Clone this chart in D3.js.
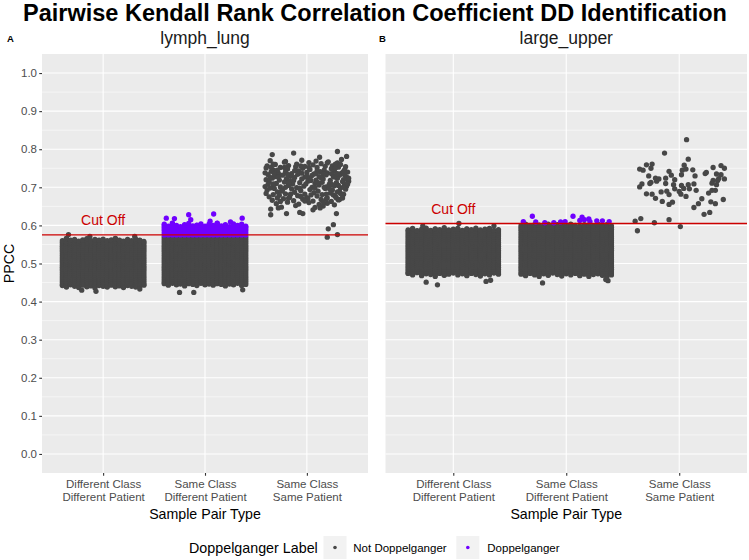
<!DOCTYPE html>
<html>
<head>
<meta charset="utf-8">
<script src="https://cdn.jsdelivr.net/npm/d3@7"></script>
<style>
  body { margin: 0; background: #fff; }
  svg { display: block; }
  text { font-family: "Liberation Sans", Arial, sans-serif; }
</style>
</head>
<body>
<div id="chart"></div>
<script>
// ---- data ----
const categories = ["Different Class\nDifferent Patient", "Same Class\nDifferent Patient", "Same Class\nSame Patient"];
const panelNames = ["lymph_lung", "large_upper"];
const panelTags = ["A", "B"];
const yTicks = [0, 0.1, 0.2, 0.3, 0.4, 0.5, 0.6, 0.7, 0.8, 0.9, 1.0];
const cutoffs = [0.575, 0.605];
const legendLabels = ["Not Doppelganger", "Doppelganger"];

// the dense clouds: for each jitter column, the top and bottom of the cloud
const columnJitter = [-0.40, -0.36, -0.32, -0.28, -0.24, -0.20, -0.16, -0.12, -0.08, -0.04, 0, 0.04, 0.08, 0.12, 0.16, 0.20, 0.24, 0.28, 0.32, 0.36, 0.40];
const fillLevels = [0.440, 0.445, 0.450, 0.455, 0.460, 0.465, 0.470, 0.475, 0.480, 0.485, 0.490, 0.495, 0.500,
                    0.505, 0.510, 0.515, 0.520, 0.525, 0.530, 0.535, 0.540, 0.545, 0.550, 0.555, 0.560,
                    0.565, 0.570, 0.575, 0.580, 0.585, 0.590, 0.595, 0.600, 0.605, 0.610, 0.615, 0.620];

const lymphDDTop    = [0.560, 0.566, 0.561, 0.563, 0.559, 0.562, 0.565, 0.560, 0.563, 0.561, 0.564, 0.560, 0.562, 0.566, 0.561, 0.559, 0.563, 0.560, 0.564, 0.561, 0.558];
const lymphDDBottom = [0.442, 0.438, 0.444, 0.440, 0.437, 0.443, 0.439, 0.441, 0.436, 0.442, 0.440, 0.438, 0.443, 0.439, 0.441, 0.437, 0.442, 0.440, 0.438, 0.441, 0.443];
const lymphSDTop    = [0.603, 0.598, 0.606, 0.600, 0.597, 0.602, 0.605, 0.599, 0.601, 0.604, 0.598, 0.603, 0.600, 0.606, 0.599, 0.602, 0.597, 0.604, 0.600, 0.603, 0.598];
const lymphSDBottom = [0.447, 0.443, 0.448, 0.444, 0.446, 0.441, 0.447, 0.445, 0.442, 0.448, 0.444, 0.446, 0.443, 0.447, 0.445, 0.441, 0.446, 0.444, 0.448, 0.442, 0.445];
const largeDDTop    = [0.588, 0.592, 0.586, 0.590, 0.593, 0.587, 0.591, 0.589, 0.594, 0.588, 0.590, 0.592, 0.587, 0.591, 0.589, 0.593, 0.588, 0.590, 0.592, 0.587, 0.589];
const largeDDBottom = [0.474, 0.470, 0.476, 0.468, 0.473, 0.471, 0.466, 0.474, 0.469, 0.472, 0.475, 0.470, 0.473, 0.468, 0.474, 0.471, 0.467, 0.473, 0.470, 0.475, 0.472];
const largeSDTop    = [0.600, 0.603, 0.599, 0.602, 0.601, 0.598, 0.603, 0.600, 0.602, 0.599, 0.601, 0.603, 0.600, 0.598, 0.602, 0.601, 0.599, 0.603, 0.600, 0.602, 0.599];
const largeSDBottom = [0.472, 0.468, 0.474, 0.470, 0.466, 0.473, 0.469, 0.475, 0.471, 0.467, 0.473, 0.470, 0.474, 0.468, 0.472, 0.466, 0.471, 0.473, 0.469, 0.465, 0.470];

// stray points around the clouds: [jitter, value]
const lymphDDStray = [[-0.34, 0.576], [-0.13, 0.571], [0.31, 0.571], [-0.07, 0.427], [-0.21, 0.430], [0.36, 0.433]];
const lymphSDStray = [[-0.38, 0.619], [-0.30, 0.618], [-0.16, 0.628], [-0.14, 0.615], [0.085, 0.630], [0.05, 0.611],
                      [0.365, 0.619], [0.25, 0.609], [-0.25, 0.424], [-0.11, 0.424], [0.37, 0.431]];
const largeDDStray = [[-0.24, 0.451], [-0.14, 0.444], [0.29, 0.453], [0.33, 0.456], [-0.27, 0.599], [0.05, 0.605], [0.36, 0.599]];
const largeSDStray = [[-0.38, 0.610], [-0.30, 0.624], [-0.27, 0.609], [-0.19, 0.607], [-0.05, 0.609], [-0.01, 0.610],
                      [0.06, 0.624], [0.12, 0.613], [0.14, 0.622], [0.16, 0.615], [0.20, 0.617], [0.21, 0.610],
                      [0.27, 0.612], [0.32, 0.612], [0.38, 0.610], [-0.11, 0.607],
                      [-0.21, 0.449], [0.37, 0.455], [0.35, 0.458]];

// lymph_lung, same class same patient: [jitter, value]
const lymphSS = [
  [-0.36, 0.770], [-0.22, 0.766], [-0.05, 0.771], [0.02, 0.765], [0.09, 0.769], [0.21, 0.767], [0.30, 0.764],
  [-0.39, 0.756], [-0.31, 0.760], [-0.18, 0.757], [-0.10, 0.761], [-0.02, 0.755], [0.06, 0.759], [0.14, 0.762], [0.25, 0.756], [0.33, 0.760], [0.38, 0.754],
  [-0.40, 0.751], [-0.33, 0.746], [-0.26, 0.752], [-0.19, 0.748], [-0.12, 0.744], [-0.04, 0.750], [0.03, 0.747], [0.10, 0.752], [0.17, 0.745], [0.24, 0.749], [0.31, 0.753], [0.37, 0.746],
  [-0.41, 0.738], [-0.35, 0.742], [-0.28, 0.737], [-0.21, 0.741], [-0.15, 0.736], [-0.08, 0.743], [0.00, 0.739], [0.07, 0.735], [0.13, 0.741], [0.20, 0.738], [0.27, 0.742], [0.34, 0.737], [0.40, 0.740],
  [-0.38, 0.733], [-0.31, 0.728], [-0.24, 0.732], [-0.16, 0.729], [-0.09, 0.734], [-0.02, 0.727], [0.05, 0.731], [0.12, 0.728], [0.19, 0.733], [0.26, 0.729], [0.32, 0.732], [0.39, 0.727],
  [-0.40, 0.720], [-0.34, 0.724], [-0.27, 0.719], [-0.20, 0.723], [-0.13, 0.718], [-0.05, 0.722], [0.02, 0.725], [0.09, 0.719], [0.16, 0.722], [0.23, 0.718], [0.30, 0.724], [0.36, 0.720], [0.41, 0.716],
  [-0.37, 0.715], [-0.30, 0.710], [-0.22, 0.714], [-0.14, 0.709], [-0.07, 0.712], [0.01, 0.716], [0.08, 0.710], [0.15, 0.713], [0.22, 0.708], [0.29, 0.712], [0.35, 0.715], [0.40, 0.709],
  [-0.41, 0.702], [-0.33, 0.706], [-0.26, 0.701], [-0.18, 0.705], [-0.10, 0.699], [-0.03, 0.703], [0.05, 0.700], [0.12, 0.706], [0.19, 0.701], [0.27, 0.704], [0.33, 0.699], [0.39, 0.703],
  [-0.39, 0.693], [-0.32, 0.697], [-0.24, 0.692], [-0.15, 0.696], [-0.06, 0.691], [0.03, 0.694], [0.11, 0.690], [0.18, 0.697], [0.25, 0.693], [0.32, 0.689], [0.38, 0.695],
  [-0.40, 0.684], [-0.29, 0.688], [-0.21, 0.683], [-0.12, 0.687], [-0.02, 0.682], [0.07, 0.686], [0.15, 0.681], [0.23, 0.685], [0.30, 0.688], [0.36, 0.682],
  [-0.37, 0.675], [-0.27, 0.679], [-0.17, 0.674], [-0.09, 0.678], [0.00, 0.673], [0.10, 0.677], [0.20, 0.672], [0.28, 0.676], [0.35, 0.679],
  [-0.34, 0.666], [-0.23, 0.670], [-0.13, 0.665], [-0.04, 0.669], [0.06, 0.664], [0.14, 0.668], [0.24, 0.663], [0.31, 0.667],
  [-0.30, 0.657], [-0.19, 0.661], [-0.08, 0.656], [0.02, 0.660], [0.12, 0.655], [0.20, 0.658], [0.27, 0.654],
  [-0.25, 0.648], [-0.11, 0.652], [0.08, 0.647], [0.16, 0.651],
  [-0.36, 0.726], [-0.29, 0.745], [-0.11, 0.754], [0.04, 0.718], [0.17, 0.700], [0.31, 0.705], [-0.25, 0.690],
  [0.24, 0.736], [-0.06, 0.676], [0.36, 0.742], [-0.38, 0.708], [0.10, 0.743], [0.26, 0.680], [-0.17, 0.717],
  [-0.35, 0.753], [-0.22, 0.752], [-0.06, 0.756], [0.02, 0.752], [0.18, 0.755], [0.28, 0.751],
  [-0.32, 0.735], [-0.19, 0.734], [-0.05, 0.737], [0.09, 0.736], [0.16, 0.734], [0.30, 0.736], [0.37, 0.733],
  [-0.28, 0.727], [-0.12, 0.726], [0.00, 0.729], [0.14, 0.725], [0.27, 0.727], [0.39, 0.722],
  [-0.33, 0.709], [-0.18, 0.711], [-0.01, 0.709], [0.11, 0.712], [0.25, 0.707], [0.37, 0.708],
  [-0.36, 0.698], [-0.21, 0.700], [-0.07, 0.697], [0.08, 0.699], [0.22, 0.697], [0.36, 0.700],
  [-0.33, 0.681], [-0.16, 0.682], [0.04, 0.680], [0.19, 0.682], [0.33, 0.684],
  [-0.29, 0.672], [-0.18, 0.671], [0.01, 0.670], [0.19, 0.669], [0.29, 0.672],
  [-0.26, 0.663], [-0.02, 0.664], [0.16, 0.662],
  [-0.34, 0.786], [-0.13, 0.790], [0.30, 0.794], [0.39, 0.781], [0.34, 0.773], [0.125, 0.779],
  [0.28, 0.761], [0.20, 0.764], [-0.21, 0.768], [-0.33, 0.761], [0.41, 0.724],
  [-0.355, 0.643], [-0.355, 0.628], [-0.28, 0.646], [-0.20, 0.631], [-0.07, 0.634], [-0.04, 0.631],
  [0.06, 0.641], [0.13, 0.646], [0.29, 0.631], [0.32, 0.668], [0.35, 0.672],
  [0.26, 0.602], [0.21, 0.591], [0.30, 0.576], [0.20, 0.569]
];

// large_upper, same class same patient: [jitter, value]
const largeSS = [
  [0.065, 0.825], [-0.13, 0.790], [0.08, 0.774], [-0.35, 0.748], [-0.32, 0.745], [-0.29, 0.759], [-0.24, 0.761],
  [-0.25, 0.750], [0.044, 0.758], [0.027, 0.745], [0.06, 0.748], [0.12, 0.746], [0.30, 0.752], [0.37, 0.757],
  [0.40, 0.750], [0.23, 0.736], [0.24, 0.739], [0.33, 0.735], [0.37, 0.733], [-0.27, 0.730], [-0.09, 0.742],
  [-0.07, 0.732], [0.02, 0.733], [0.14, 0.730], [-0.21, 0.724], [-0.18, 0.722], [-0.12, 0.724], [-0.04, 0.720],
  [0.30, 0.718], [0.35, 0.723], [0.40, 0.722], [-0.25, 0.713], [-0.20, 0.716], [-0.26, 0.710], [-0.33, 0.709],
  [-0.35, 0.701], [-0.12, 0.710], [-0.05, 0.707], [0.02, 0.705], [0.08, 0.707], [0.13, 0.709], [0.29, 0.711],
  [0.34, 0.718], [0.33, 0.707], [-0.04, 0.696], [0.00, 0.689], [0.04, 0.697], [0.09, 0.696], [0.15, 0.692],
  [-0.11, 0.690], [-0.16, 0.688], [-0.29, 0.683], [-0.24, 0.682], [-0.09, 0.681], [0.015, 0.682], [0.06, 0.676],
  [0.26, 0.685], [0.29, 0.692], [0.32, 0.692], [-0.21, 0.671], [-0.15, 0.663], [-0.09, 0.655], [-0.06, 0.661],
  [0.20, 0.670], [0.28, 0.662], [0.32, 0.657], [0.39, 0.668], [0.17, 0.657], [0.13, 0.647], [0.22, 0.629],
  [0.27, 0.634], [-0.34, 0.618], [-0.39, 0.611], [-0.22, 0.607], [-0.09, 0.615], [-0.37, 0.586], [0.01, 0.597]
];

// ---- layout ----
const W = 749, H = 560;
const panelX = [[42, 368], [385.5, 747]];
const panelTop = 54, panelBottom = 473;
const r = 2.65;
const dark = "#474747", purple = "#7000FF", cutColor = "#CC0000";

const svg = d3.select("#chart").append("svg")
  .attr("width", W)
  .attr("height", H);

svg.append("text")
  .attr("x", 375).attr("y", 20.5)
  .attr("text-anchor", "middle")
  .attr("font-size", 23.5).attr("font-weight", "bold")
  .attr("fill", "#000")
  .text("Pairwise Kendall Rank Correlation Coefficient DD Identification");

const y = d3.scaleLinear().domain([-0.05, 1.05]).range([panelBottom, panelTop]);

function cloud(top, bottom, cat) {
  const pts = [];
  columnJitter.forEach((j, i) => {
    pts.push({ cat, j, v: bottom[i] });
    fillLevels.filter(l => l > bottom[i] && l < top[i]).forEach(l => pts.push({ cat, j, v: l }));
    pts.push({ cat, j, v: top[i] });
  });
  return pts;
}
const pairs = (arr, cat) => arr.map(([j, v]) => ({ cat, j, v }));

const panelPoints = [
  [].concat(
    cloud(lymphDDTop, lymphDDBottom, 0), pairs(lymphDDStray, 0),
    cloud(lymphSDTop, lymphSDBottom, 1), pairs(lymphSDStray, 1),
    pairs(lymphSS, 2)
  ),
  [].concat(
    cloud(largeDDTop, largeDDBottom, 0), pairs(largeDDStray, 0),
    cloud(largeSDTop, largeSDBottom, 1), pairs(largeSDStray, 1),
    pairs(largeSS, 2)
  )
];

panelNames.forEach((name, p) => {
  const [x0, x1] = panelX[p];
  const x = d3.scalePoint().domain(categories).range([x0, x1]).padding(0.6);
  const step = x.step();
  const cut = cutoffs[p];
  const g = svg.append("g");

  g.append("rect")
    .attr("x", x0).attr("y", panelTop)
    .attr("width", x1 - x0).attr("height", panelBottom - panelTop)
    .attr("fill", "#EBEBEB");

  // minor grid
  g.selectAll(".minor").data(yTicks.slice(1)).enter().append("line")
    .attr("x1", x0).attr("x2", x1)
    .attr("y1", d => y(d - 0.05)).attr("y2", d => y(d - 0.05))
    .attr("stroke", "#fff").attr("stroke-width", 0.55);
  // major grid
  g.selectAll(".major").data(yTicks).enter().append("line")
    .attr("x1", x0).attr("x2", x1)
    .attr("y1", d => y(d)).attr("y2", d => y(d))
    .attr("stroke", "#fff").attr("stroke-width", 1.1);
  g.selectAll(".vmajor").data(categories).enter().append("line")
    .attr("x1", d => x(d)).attr("x2", d => x(d))
    .attr("y1", panelTop).attr("y2", panelBottom)
    .attr("stroke", "#fff").attr("stroke-width", 1.1);

  const pts = panelPoints[p].map(d => Object.assign({}, d, { dd: d.cat === 1 && d.v >= cut }));
  const ordered = pts.filter(d => !d.dd).concat(pts.filter(d => d.dd));

  g.selectAll(".pt").data(ordered).enter().append("circle")
    .attr("cx", d => x(categories[d.cat]) + d.j * step)
    .attr("cy", d => y(d.v))
    .attr("r", r)
    .attr("fill", d => d.dd ? purple : dark);

  // cut off line and label
  g.append("line")
    .attr("x1", x0).attr("x2", x1)
    .attr("y1", y(cut)).attr("y2", y(cut))
    .attr("stroke", cutColor).attr("stroke-width", 1.3);
  g.append("text")
    .attr("x", x(categories[0])).attr("y", y(cut) - 10)
    .attr("text-anchor", "middle")
    .attr("font-size", 14).attr("fill", cutColor)
    .text("Cut Off");

  // facet title and tag
  svg.append("text")
    .attr("x", (x0 + x1) / 2).attr("y", 43.5)
    .attr("text-anchor", "middle")
    .attr("font-size", 17.5).attr("fill", "#1A1A1A")
    .text(name);
  svg.append("text")
    .attr("x", p === 0 ? 7 : 379).attr("y", 42)
    .attr("font-size", 9.5).attr("font-weight", "bold")
    .text(panelTags[p]);

  // x axis
  const xAxis = g.append("g")
    .attr("transform", `translate(0,${panelBottom})`)
    .call(d3.axisBottom(x).tickSize(2.75).tickFormat(""));
  xAxis.select(".domain").remove();
  xAxis.selectAll(".tick line").attr("stroke", "#333").attr("stroke-width", 1.1);
  xAxis.selectAll(".tick").each(function (d) {
    const t = d3.select(this).append("text")
      .attr("fill", "#4D4D4D").attr("font-size", 11.5)
      .attr("text-anchor", "middle");
    d.split("\n").forEach((line, i) => {
      t.append("tspan").attr("x", 0).attr("y", 15 + i * 12.6).text(line);
    });
  });

  svg.append("text")
    .attr("x", (x0 + x1) / 2).attr("y", 518.5)
    .attr("text-anchor", "middle")
    .attr("font-size", 14.2).attr("fill", "#000")
    .text("Sample Pair Type");

  if (p === 0) {
    const yAxis = g.append("g")
      .attr("transform", `translate(${x0},0)`)
      .call(d3.axisLeft(y).tickValues(yTicks).tickSize(2.75).tickFormat(d3.format(".1f")));
    yAxis.select(".domain").remove();
    yAxis.selectAll(".tick line").attr("stroke", "#333").attr("stroke-width", 1.1);
    yAxis.selectAll(".tick text")
      .attr("fill", "#4D4D4D").attr("font-size", 11.5)
      .attr("font-family", "Liberation Sans, Arial, sans-serif")
      .attr("x", -5);

    svg.append("text")
      .attr("transform", `translate(14,${(panelTop + panelBottom) / 2}) rotate(-90)`)
      .attr("text-anchor", "middle")
      .attr("font-size", 14.2).attr("fill", "#000")
      .text("PPCC");
  }
});

// legend
const legendY = 547.5;
const lg = svg.append("g");
lg.append("text")
  .attr("x", 189).attr("y", legendY + 5)
  .attr("font-size", 14.3).attr("fill", "#000")
  .text("Doppelganger Label");
const keyX = [323.5, 456.3];
const labelX = [353.3, 487.3];
legendLabels.forEach((lab, i) => {
  lg.append("rect")
    .attr("x", keyX[i]).attr("y", legendY - 11.5)
    .attr("width", 23).attr("height", 23)
    .attr("fill", "#F2F2F2");
  lg.append("circle")
    .attr("cx", keyX[i] + 11.5).attr("cy", legendY)
    .attr("r", 1.8)
    .attr("fill", i === 0 ? dark : purple);
  lg.append("text")
    .attr("x", labelX[i]).attr("y", legendY + 4)
    .attr("font-size", 11.5).attr("fill", "#000")
    .text(lab);
});
</script>
</body>
</html>
